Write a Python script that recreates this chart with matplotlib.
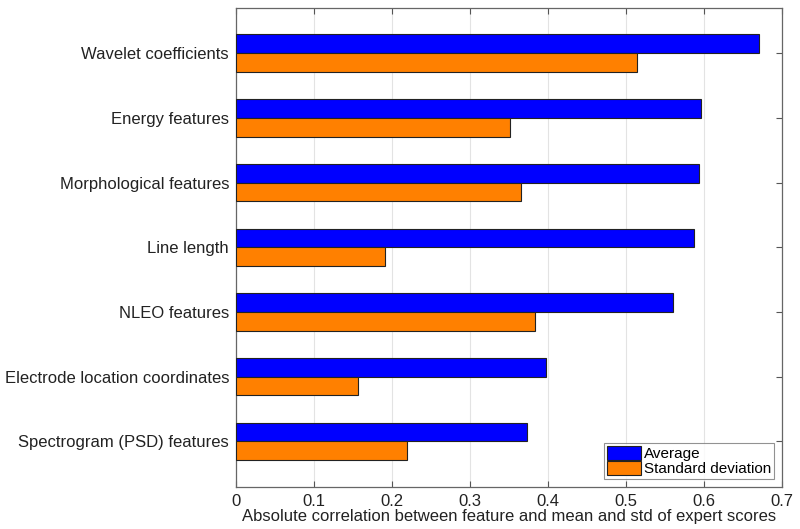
import matplotlib
matplotlib.use('Agg')
import matplotlib.pyplot as plt
import numpy as np

features = [
    "Wavelet coefficients",
    "Energy features",
    "Morphological features",
    "Line length",
    "NLEO features",
    "Electrode location coordinates",
    "Spectrogram (PSD) features",
]
average = [0.671, 0.596, 0.593, 0.587, 0.560, 0.397, 0.373]
std_dev = [0.514, 0.351, 0.365, 0.191, 0.383, 0.156, 0.219]

plt.rcParams['font.family'] = ['Liberation Sans', 'DejaVu Sans']

fig = plt.figure(figsize=(8, 5.29), dpi=100)
ax = fig.add_axes([0.295, 0.080, 0.6825, 0.905])

pos = np.arange(1, len(features) + 1)
h = 0.29

ax.barh(pos - h / 2, average, height=h, color='#0000ff', edgecolor='#222222',
        linewidth=0.8, label='Average', zorder=3)
ax.barh(pos + h / 2, std_dev, height=h, color='#ff8000', edgecolor='#222222',
        linewidth=0.8, label='Standard deviation', zorder=3)

ax.set_xlim(0, 0.7)
ax.set_ylim(7.7, 0.3)
ax.set_xticks(np.arange(0, 0.71, 0.1))
ax.set_xticklabels(['0', '0.1', '0.2', '0.3', '0.4', '0.5', '0.6', '0.7'])
ax.set_yticks(pos)
ax.set_yticklabels(features)

ax.xaxis.grid(True, color='#e3e3e3', linewidth=0.8, zorder=0)
ax.set_axisbelow(True)

ax.tick_params(axis='both', direction='in', length=4, width=0.8, color='#555555',
               labelsize=12, labelcolor='#222222', top=True, right=True)
ax.tick_params(axis='x', pad=5)
ax.tick_params(axis='y', pad=5)
for s in ax.spines.values():
    s.set_color('#666666')
    s.set_linewidth(0.9)

ax.set_xlabel("Absolute correlation between feature and mean and std of expert scores",
              fontsize=12, color='#222222', labelpad=0)

leg = ax.legend(loc='lower right', fontsize=11, frameon=True, fancybox=False,
                edgecolor='#777777', borderpad=0.2, labelspacing=0.0,
                handlelength=2.2, handleheight=1.0, handletextpad=0.2,
                borderaxespad=0.5)
leg.get_frame().set_linewidth(0.8)

fig.savefig('out.png', dpi=100, facecolor='white')
